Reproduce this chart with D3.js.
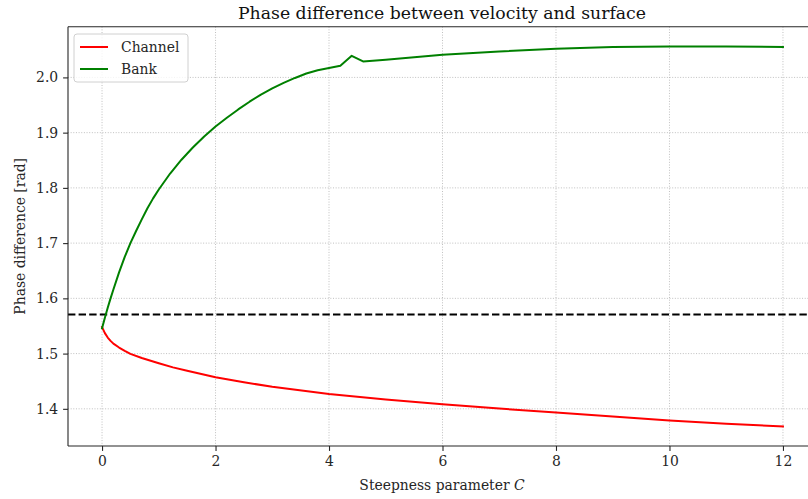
<!DOCTYPE html>
<html><head><meta charset="utf-8">
<script src="https://cdn.jsdelivr.net/npm/d3@7"></script>
<style>
body{margin:0;background:#fff;}
svg{display:block;font-family:"DejaVu Serif",serif;}
</style></head>
<body>
<svg id="chart" width="808" height="499"></svg>
<script>
const title = "Phase difference between velocity and surface";
const xLabel = "Steepness parameter ";
const yLabel = "Phase difference [rad]";
const seriesNames = ["Channel", "Bank"];
const seriesColors = ["#ff0000", "#008000"];

const channelX = [0, 0.05, 0.1, 0.15, 0.2, 0.3, 0.4, 0.5, 0.7, 1.0, 1.25, 1.5, 2.0, 2.5, 3.0, 4.0, 5.0, 6.0, 7.0, 8.0, 9.0, 10.0, 11.0, 12.0];
const channelY = [1.548, 1.537, 1.529, 1.523, 1.518, 1.511, 1.505, 1.4995, 1.492, 1.4825, 1.475, 1.469, 1.457, 1.448, 1.440, 1.4267, 1.417, 1.4085, 1.4005, 1.3933, 1.386, 1.3788, 1.373, 1.368];

const bankX = [0, 0.05, 0.1, 0.15, 0.2, 0.3, 0.4, 0.5, 0.6, 0.7, 0.8, 0.9, 1.0, 1.2, 1.4, 1.6, 1.8, 2.0, 2.2, 2.4, 2.6, 2.8, 3.0, 3.2, 3.4, 3.6, 3.8, 4.0, 4.2, 4.4, 4.6, 5.0, 6.0, 7.0, 8.0, 9.0, 10.0, 11.0, 12.0];
const bankY = [1.546, 1.565, 1.583, 1.600, 1.616, 1.647, 1.675, 1.700, 1.722, 1.743, 1.763, 1.781, 1.797, 1.826, 1.851, 1.873, 1.893, 1.911, 1.927, 1.942, 1.956, 1.969, 1.980, 1.990, 1.999, 2.007, 2.013, 2.017, 2.021, 2.039, 2.029, 2.032, 2.041, 2.047, 2.052, 2.055, 2.056, 2.056, 2.055];

const refLine = Math.PI / 2;
const xTicks = [0, 2, 4, 6, 8, 10, 12];
const yTicks = [1.4, 1.5, 1.6, 1.7, 1.8, 1.9, 2.0];

const svg = d3.select("#chart");
const L = 68, T = 26.7, B = 446, R = 817;
const x = d3.scaleLinear().domain([-0.6, 12.6]).range([L, R]);
const y = d3.scaleLinear().domain([1.3327, 2.0918]).range([B, T]);

// grid
const grid = svg.append("g");
grid.selectAll(".gx").data(xTicks).enter().append("line")
  .attr("x1", d => x(d)).attr("x2", d => x(d)).attr("y1", T).attr("y2", B)
  .attr("stroke", "#b0b0b0").attr("stroke-width", 0.8).attr("stroke-dasharray", "1,1.65");
grid.selectAll(".gy").data(yTicks).enter().append("line")
  .attr("y1", d => y(d)).attr("y2", d => y(d)).attr("x1", L).attr("x2", R)
  .attr("stroke", "#b0b0b0").attr("stroke-width", 0.8).attr("stroke-dasharray", "1,1.65");

svg.append("clipPath").attr("id", "clip").append("rect")
  .attr("x", L).attr("y", T).attr("width", R - L).attr("height", B - T);

const plot = svg.append("g").attr("clip-path", "url(#clip)");
plot.append("line").attr("x1", L).attr("x2", R).attr("y1", y(refLine)).attr("y2", y(refLine))
  .attr("stroke", "#000").attr("stroke-width", 2).attr("stroke-dasharray", "7.4,3.2");

const line = d3.line().x(d => x(d[0])).y(d => y(d[1]));
const series = [
  channelX.map((v, i) => [v, channelY[i]]),
  bankX.map((v, i) => [v, bankY[i]])
];
series.forEach((s, i) => {
  plot.append("path").datum(s).attr("d", line).attr("fill", "none")
    .attr("stroke", seriesColors[i]).attr("stroke-width", 2)
    .attr("stroke-linejoin", "round").attr("stroke-linecap", "square");
});

// axes
const xAxis = svg.append("g").attr("transform", `translate(0,${B})`)
  .call(d3.axisBottom(x).tickValues(xTicks).tickFormat(d3.format("d")).tickSizeOuter(0).tickSize(4.9).tickPadding(4.9));
const yAxis = svg.append("g").attr("transform", `translate(${L},0)`)
  .call(d3.axisLeft(y).tickValues(yTicks).tickFormat(d3.format(".1f")).tickSizeOuter(0).tickSize(4.9).tickPadding(4.9));
[xAxis, yAxis].forEach(a => {
  a.select(".domain").remove();
  a.selectAll("text").attr("font-family", "DejaVu Serif").attr("font-size", 13.9).attr("fill", "#262626");
  a.selectAll("line").attr("stroke", "#262626").attr("stroke-width", 1.1);
});
// spines
svg.append("line").attr("x1", L).attr("x2", L).attr("y1", T).attr("y2", B).attr("stroke", "#262626").attr("stroke-width", 1.1);
svg.append("line").attr("x1", L).attr("x2", R).attr("y1", B).attr("y2", B).attr("stroke", "#262626").attr("stroke-width", 1.1);
svg.append("line").attr("x1", L).attr("x2", R).attr("y1", T).attr("y2", T).attr("stroke", "#262626").attr("stroke-width", 1.1);

// title
svg.append("text").attr("x", 442).attr("y", 19).attr("text-anchor", "middle")
  .attr("font-size", 17.3).attr("fill", "#111").text(title);
// x label
const xl = svg.append("text").attr("x", 442).attr("y", 490).attr("text-anchor", "middle")
  .attr("font-size", 13.9).attr("fill", "#262626");
xl.append("tspan").text(xLabel);
xl.append("tspan").attr("font-style", "italic").text("C");
// y label
svg.append("text").attr("transform", `translate(25,${(T + B) / 2}) rotate(-90)`).attr("text-anchor", "middle")
  .attr("font-size", 13.9).attr("fill", "#262626").text(yLabel);

// legend
const lg = svg.append("g").attr("transform", "translate(74,34)");
lg.append("rect").attr("width", 114).attr("height", 48).attr("rx", 3)
  .attr("fill", "#fff").attr("fill-opacity", 0.8).attr("stroke", "#d0d0d0").attr("stroke-width", 1);
seriesNames.forEach((n, i) => {
  const yy = 13 + i * 22;
  lg.append("line").attr("x1", 6).attr("x2", 34).attr("y1", yy).attr("y2", yy)
    .attr("stroke", seriesColors[i]).attr("stroke-width", 2);
  lg.append("text").attr("x", 47).attr("y", yy + 5).attr("font-size", 13.9).attr("fill", "#262626").text(n);
});
</script>
</body></html>
